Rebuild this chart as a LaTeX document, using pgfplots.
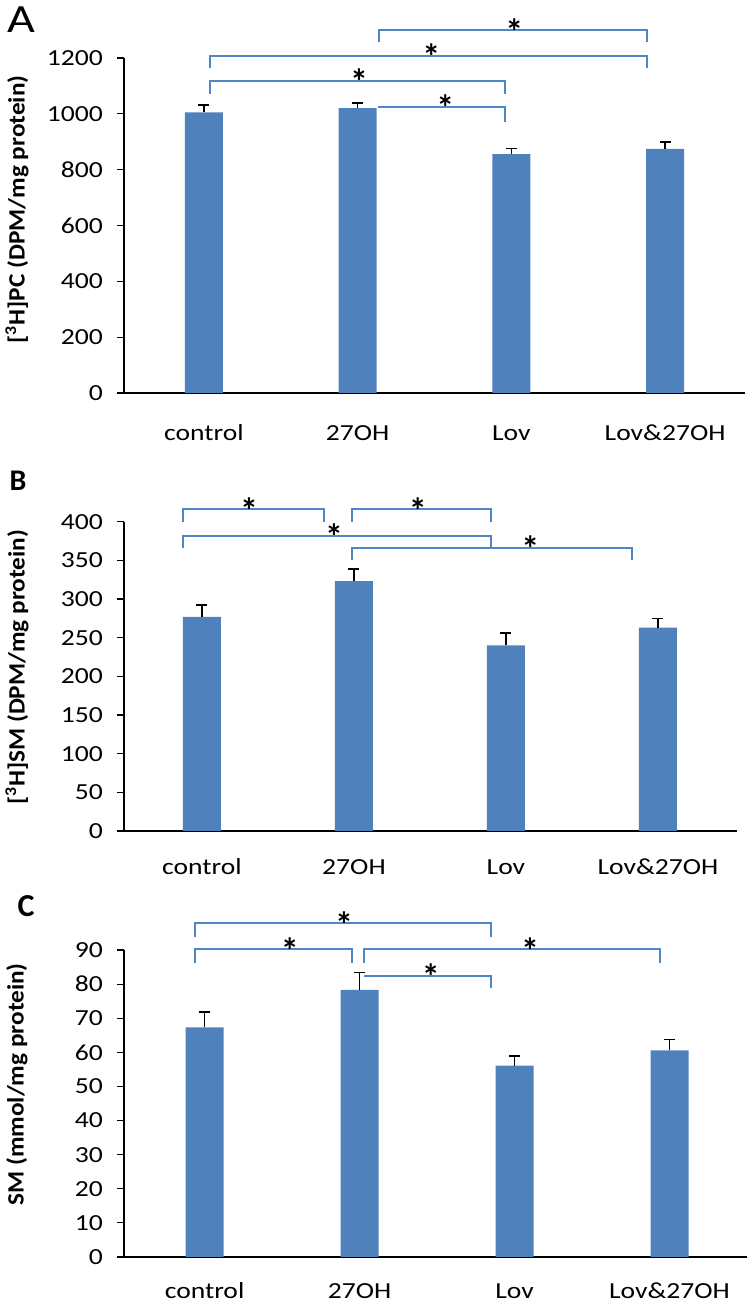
\documentclass[border=0pt]{standalone}
\usepackage{pgfplots}
\pgfplotsset{compat=1.18}
\usepackage{fontspec}
\setmainfont{Carlito}
\newfontfamily\wide[FakeStretch=1.2]{Carlito}
\newfontfamily\labfont[FakeStretch=1.08]{Carlito}
\definecolor{barblue}{HTML}{4F81BD}
\definecolor{brkcol}{HTML}{4F86C8}
\pgfplotsset{
  panel/.style={
    scale only axis,
    axis lines*=left,
    ymin=0,
    xtick={0,1,2,3},
    xticklabels={control,27OH,Lov,Lov\&27OH},
    x tick style={draw=none},
    tick align=outside,
    major tick length=3.5pt,
    axis line style={line width=0.6pt},
    y tick style={line width=0.6pt, black},
    ticklabel style={font=\wide\fontsize{11.5}{13}\selectfont},
    xticklabel style={anchor=base, yshift=-20.5pt},
    yticklabel style={xshift=-3.5pt},
    /pgf/number format/assume math mode=true,
    /pgf/number format/1000 sep={},
    every axis y label/.style={at={(rel axis cs:0,\labpos)}, xshift=-53.5pt, rotate=90, anchor=center,
      font=\labfont\bfseries\fontsize{11.7}{14}\selectfont},
    clip=false,
    enlarge x limits=false,
  },
  bars/.style={ybar, bar width=19pt, fill=barblue, draw=none,
    error bars/.cd, y dir=plus, y explicit,
    error bar style={black, line width=0.8pt},
    error mark options={rotate=90, black, mark size=2.75pt, line width=0.8pt}},
}
\tikzset{
  brkline/.style={draw=brkcol, line width=1pt},
  starnode/.style={font=\bfseries\fontsize{18}{18}\selectfont, anchor=base, yshift=-7pt, inner sep=0pt}
}
\begin{document}
\begin{tikzpicture}
\useasboundingbox (0,0) rectangle (375pt,650.5pt);
% Panel A
\def\labpos{0.548}
\begin{axis}[panel, at={(62pt,454pt)}, anchor=south west, width=310.5pt, height=167.5pt,
  xmin=-0.52, xmax=3.52, ymax=1200, ytick={0,200,...,1200},
  ylabel={[\textsuperscript{3}H]PC (DPM/mg protein)}]
\addplot[bars] coordinates {(0,1005) +- (0,27) (1,1020) +- (0,18) (2,856) +- (0,20) (3,874) +- (0,26)};
\draw[brkline] (axis cs:1.14,1257) -- (axis cs:1.14,1300) -- (axis cs:2.88,1300) -- (axis cs:2.88,1257);
\node[starnode] at (axis cs:2.02,1300) {*};
\draw[brkline] (axis cs:0.04,1163) -- (axis cs:0.04,1208) -- (axis cs:2.88,1208) -- (axis cs:2.88,1163);
\node[starnode] at (axis cs:1.48,1208) {*};
\draw[brkline] (axis cs:0.04,1071) -- (axis cs:0.04,1119) -- (axis cs:1.96,1119) -- (axis cs:1.96,1071);
\node[starnode] at (axis cs:1.01,1119) {*};
\draw[brkline] (axis cs:1.13,1026) -- (axis cs:1.96,1026) -- (axis cs:1.96,971);
\node[starnode] at (axis cs:1.57,1026) {*};
\end{axis}
% Panel B
\def\labpos{0.529}
\begin{axis}[panel, at={(62pt,235pt)}, anchor=south west, width=306.5pt, height=154.65pt,
  xmin=-0.513, xmax=3.52, ymax=400, ytick={0,50,...,400},
  xticklabel style={yshift=2pt},
  ylabel={[\textsuperscript{3}H]SM (DPM/mg protein)}]
\addplot[bars] coordinates {(0,277) +- (0,15) (1,323) +- (0,16) (2,240) +- (0,16) (3,263) +- (0,12)};
\draw[brkline] (axis cs:-0.125,400) -- (axis cs:-0.125,416) -- (axis cs:0.80,416) -- (axis cs:0.80,400);
\node[starnode] at (axis cs:0.31,416) {*};
\draw[brkline] (axis cs:0.99,400) -- (axis cs:0.99,416) -- (axis cs:1.90,416) -- (axis cs:1.90,400);
\node[starnode] at (axis cs:1.42,416) {*};
\draw[brkline] (axis cs:-0.125,366) -- (axis cs:-0.125,382) -- (axis cs:1.90,382) -- (axis cs:1.90,366);
\node[starnode] at (axis cs:0.87,382) {*};
\draw[brkline] (axis cs:0.99,350) -- (axis cs:0.99,366) -- (axis cs:2.83,366) -- (axis cs:2.83,350);
\node[starnode] at (axis cs:2.16,366) {*};
\end{axis}
% Panel C
\def\labpos{0.5625}
\begin{axis}[panel, at={(62pt,22pt)}, anchor=south west, width=311.5pt, height=153.5pt,
  xmin=-0.52, xmax=3.5, ymax=90, ytick={0,10,...,90},
  xticklabel style={yshift=3.5pt},
  ylabel={SM (mmol/mg protein)}]
\addplot[bars] coordinates {(0,67.3) +- (0,4.5) (1,78.3) +- (0,5.1) (2,56.1) +- (0,2.9) (3,60.6) +- (0,3.2)};
\draw[brkline] (axis cs:-0.06,93.9) -- (axis cs:-0.06,97.9) -- (axis cs:1.85,97.9) -- (axis cs:1.85,93.9);
\node[starnode] at (axis cs:0.90,97.9) {*};
\draw[brkline] (axis cs:-0.06,86.2) -- (axis cs:-0.06,90.2) -- (axis cs:0.95,90.2) -- (axis cs:0.95,86.2);
\node[starnode] at (axis cs:0.55,90.2) {*};
\draw[brkline] (axis cs:1.03,86.2) -- (axis cs:1.03,90.2) -- (axis cs:2.94,90.2) -- (axis cs:2.94,86.2);
\node[starnode] at (axis cs:2.10,90.2) {*};
\draw[brkline] (axis cs:1.03,82.5) -- (axis cs:1.85,82.5) -- (axis cs:1.85,78.9);
\node[starnode] at (axis cs:1.46,82.5) {*};
\end{axis}
\node[font=\wide\fontsize{20}{20}\selectfont] at (10.5pt,640.5pt) {A};
\node[font=\bfseries\fontsize{15}{15}\selectfont] at (9pt,410pt) {B};
\node[font=\bfseries\fontsize{16}{16}\selectfont] at (13pt,197.5pt) {C};
\end{tikzpicture}
\end{document}
